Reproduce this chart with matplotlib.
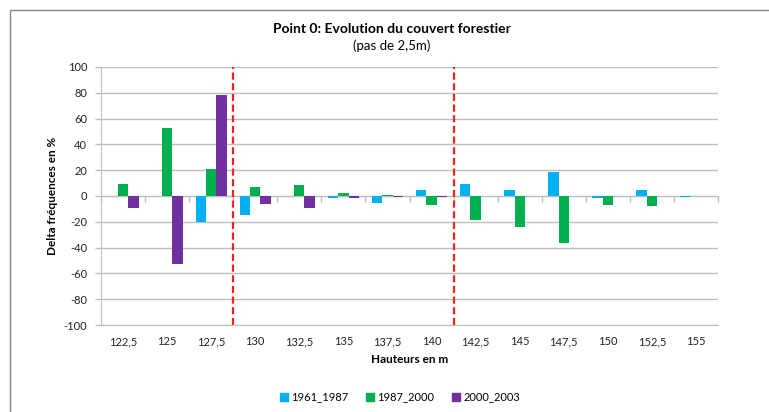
import numpy as np
import matplotlib.pyplot as plt
from matplotlib.patches import Rectangle, Patch

plt.rcParams['font.family'] = ['Lato', 'DejaVu Sans']
plt.rcParams['axes.unicode_minus'] = False

# ==============================
# Data : delta des fréquences par classe de hauteur
# ==============================
hauteurs = ["122,5", "125", "127,5", "130", "132,5", "135", "137,5",
            "140", "142,5", "145", "147,5", "150", "152,5", "155"]
d_1961_1987 = [0, 0, -20, -15, 0, -1.3, -5.4, 4.6, 9.2, 4.6, 18.5, -1.3, 4.4, -0.8]
d_1987_2000 = [9.2, 52.5, 21, 6.7, 8.7, 2, 0.8, -6.7, -18.7, -24.4, -36.4, -6.7, -7.4, 0]
d_2000_2003 = [-9.5, -52.5, 78, -6.2, -9, -1.8, -0.5, -0.5, 0, 0, 0, 0, 0, 0]

series = ["1961_1987", "1987_2000", "2000_2003"]
colors = ["#00B0F0", "#00B050", "#7030A0"]
separations = [2.5, 7.5]   # limites de zones (traits rouges)

# ==============================
# Figure
# ==============================
fig = plt.figure(figsize=(7.69, 4.12), dpi=100)
ax = fig.add_axes([101/769, 1 - 325/412, (718 - 101)/769, (325 - 67)/412])

x = np.arange(len(hauteurs))
w = 0.235
for i, (vals, c) in enumerate(zip([d_1961_1987, d_1987_2000, d_2000_2003], colors)):
    ax.bar(x + (i - 1) * w, vals, width=w, color=c, zorder=3)

for s in separations:
    ax.axvline(s, color="#FF2020", lw=1.6, linestyle=(0, (3.2, 1.6)), zorder=4)

ax.set_xlim(-0.5, len(hauteurs) - 0.5)
ax.set_ylim(-100, 100)
ax.set_yticks(np.arange(-100, 101, 20))
ax.grid(axis="y", color="#BEBEBE", lw=1, zorder=0)
ax.set_xticks(x)
ax.set_xticklabels(hauteurs)
ax.tick_params(axis="x", length=0, pad=8, labelsize=8, colors="#222222")
ax.tick_params(axis="y", length=4, width=1, color="#BEBEBE", pad=6,
               labelsize=8, labelcolor="#222222")
for sp in ["top", "right"]:
    ax.spines[sp].set_visible(False)
ax.spines["left"].set_color("#BEBEBE")
ax.spines["bottom"].set_color("#BEBEBE")

# axe horizontal à zéro, avec graduations entre catégories
sec = ax.secondary_xaxis(0, transform=ax.transData)
sec.set_xticks(np.arange(-0.5, len(hauteurs), 1.0))
sec.set_xticklabels([])
sec.tick_params(length=4, width=1, color="#BEBEBE")
sec.spines["bottom"].set_color("#BEBEBE")

ax.set_xlabel("Hauteurs en m", fontsize=8.5, fontweight="bold", labelpad=5)
ax.set_ylabel("Delta fréquences en %", fontsize=8.5, fontweight="bold", labelpad=4)

fig.text(392/769, 1 - 29/412, "Point 0: Evolution du couvert forestier",
         ha="center", va="center", fontsize=10, fontweight="bold")
fig.text(392/769, 1 - 46/412, "(pas de 2,5m)", ha="center", va="center", fontsize=9.5)

handles = [Patch(color=c, label=s) for s, c in zip(series, colors)]
fig.legend(handles=handles, loc="center", bbox_to_anchor=(400/769, 1 - 397/412),
           ncol=3, frameon=False, fontsize=8, handlelength=0.7, handleheight=0.7,
           handletextpad=0.3, columnspacing=1.6)

# cadre de la zone de graphique
fig.add_artist(Rectangle((10/769, -0.1), 1.1, 1 - 10/412 + 0.1, fill=False,
                         edgecolor="#888888", lw=1, transform=fig.transFigure))

fig.savefig("out.png", dpi=100)
